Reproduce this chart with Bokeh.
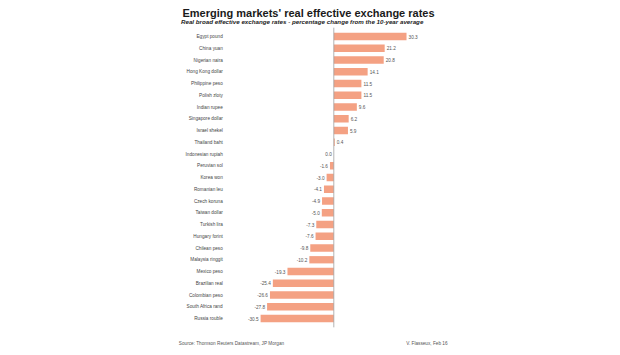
from bokeh.plotting import figure
from bokeh.models import Range1d, Label, ColumnDataSource
from bokeh.core.properties import value
from bokeh.embed import file_html
from bokeh.resources import INLINE

currencies = ["Egypt pound", "China yuan", "Nigerian naira", "Hong Kong dollar", "Philippine peso",
              "Polish zloty", "Indian rupee", "Singapore dollar", "Israel shekel", "Thailand baht",
              "Indonesian rupiah", "Peruvian sol", "Korea won", "Romanian leu", "Czech koruna",
              "Taiwan dollar", "Turkish lira", "Hungary forint", "Chilean peso", "Malaysia ringgit",
              "Mexico peso", "Brazilian real", "Colombian peso", "South Africa rand", "Russia rouble"]
changes = [30.3, 21.2, 20.8, 14.1, 11.5, 11.5, 9.6, 6.2, 5.9, 0.4,
           0.0, -1.6, -3.0, -4.1, -4.9, -5.0, -7.3, -7.6, -9.8, -10.2,
           -19.3, -25.4, -26.6, -27.8, -30.5]

title_text = "Emerging markets' real effective exchange rates"
subtitle_text = "Real broad effective exchange rates - percentage change from the 10-year average"
source_text = "Source: Thomson Reuters Datastream, JP Morgan"
credit_text = "V. Flasseux, Feb 16"

W, H = 612, 347
PX_PER_UNIT = 2.40
ZERO_X = 333.3
ROW = 11.75
TOP_ROW_Y = 36.0

n = len(currencies)
ys = list(range(n))
y_top = -TOP_ROW_Y / ROW
y_bottom = y_top + H / ROW

p = figure(width=W, height=H, output_backend="svg", toolbar_location=None,
           x_range=Range1d(-ZERO_X / PX_PER_UNIT, (W - ZERO_X) / PX_PER_UNIT),
           y_range=Range1d(y_bottom, y_top),
           min_border=0, min_border_left=0, min_border_right=0,
           min_border_top=0, min_border_bottom=0)
p.xaxis.visible = False
p.yaxis.visible = False
p.xgrid.visible = False
p.ygrid.visible = False
p.outline_line_color = None
p.background_fill_color = "white"
p.border_fill_color = "white"

font = value("Liberation Sans")

src = ColumnDataSource(dict(
    y=ys, v=changes, name=currencies,
    lab=["%.1f" % v for v in changes],
))
p.hbar(y="y", left=0, right="v", height=0.62, source=src,
       fill_color="#F4A183", line_color=None)

# zero line
p.segment(x0=[0], y0=[-0.75], x1=[0], y1=[n - 1 + 0.75], line_color="#a0a0a0", line_width=0.8)

# value labels
pos = ColumnDataSource(dict(y=[y for y, v in zip(ys, changes) if v > 0],
                            v=[v for v in changes if v > 0],
                            lab=["%.1f" % v for v in changes if v > 0]))
neg = ColumnDataSource(dict(y=[y for y, v in zip(ys, changes) if v <= 0],
                            v=[v for v in changes if v <= 0],
                            lab=["%.1f" % v for v in changes if v <= 0]))
p.text(x="v", y="y", text="lab", source=pos, x_offset=2, text_align="left",
       text_baseline="middle", text_font=font, text_font_size="4.7px", text_color="#555555")
p.text(x="v", y="y", text="lab", source=neg, x_offset=-2, text_align="right",
       text_baseline="middle", text_font=font, text_font_size="4.7px", text_color="#555555")

# category labels
p.text(x=0, y="y", text="name", source=src, x_offset=-111, text_align="right",
       text_baseline="middle", text_font=font, text_font_size="4.7px", text_color="#444444")

p.add_layout(Label(x=182, y=H - 12.2, x_units="screen", y_units="screen", text=title_text,
                   text_font="Liberation Sans", text_font_size="11px", text_font_style="bold",
                   text_color="#1a1a1a", text_baseline="alphabetic", text_align="left"))
p.add_layout(Label(x=180.5, y=H - 21.2, x_units="screen", y_units="screen", text=subtitle_text,
                   text_font="Liberation Sans", text_font_size="6.2px", text_font_style="bold italic",
                   text_color="#222222", text_baseline="alphabetic", text_align="left"))
p.add_layout(Label(x=178.3, y=H - 342.7, x_units="screen", y_units="screen", text=source_text,
                   text_font="Liberation Sans", text_font_size="4.7px",
                   text_color="#555555", text_baseline="middle", text_align="left"))
p.add_layout(Label(x=447, y=H - 342.7, x_units="screen", y_units="screen", text=credit_text,
                   text_font="Liberation Sans", text_font_size="4.7px",
                   text_color="#555555", text_baseline="middle", text_align="right"))

open("out.html", "w").write(file_html(p, INLINE))
